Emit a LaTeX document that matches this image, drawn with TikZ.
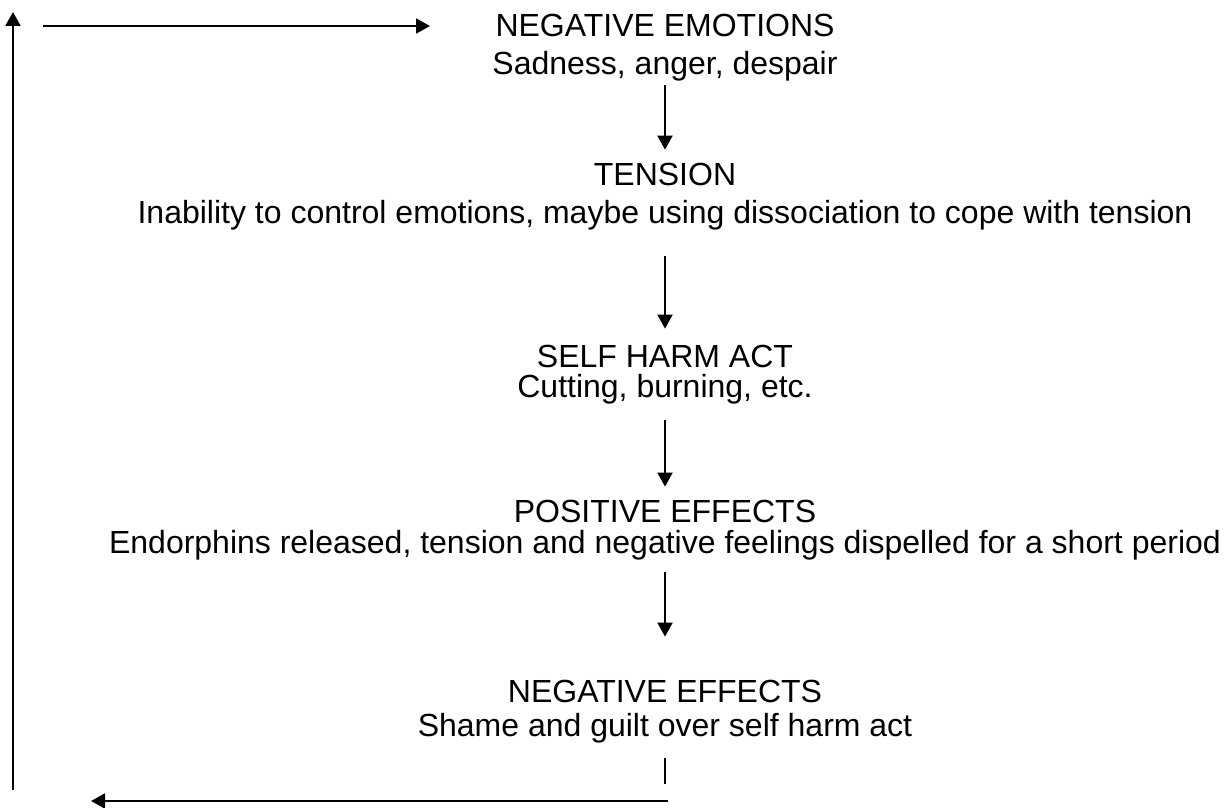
\documentclass[tikz,border=0pt]{standalone}
\usepackage{fontspec}
\setmainfont{Liberation Sans}
\usetikzlibrary{arrows.meta}

\begin{document}
\begin{tikzpicture}[x=0.5pt, y=-0.5pt, >={Triangle[length=7pt, width=7.5pt]},
  line/.style={inner sep=0pt, anchor=base, font=\fontsize{16}{19}\selectfont, text height=11pt, text depth=3pt},
  flow/.style={->, line width=1pt}]
\useasboundingbox (0,0) rectangle (1227,808);
\node[line] (t1) at (665,37) {NEGATIVE EMOTIONS};\node[line] (e1) at (665,75) {Sadness, anger, despair};
\node[line] (t2) at (665,185) {TENSION};\node[line] (e2) at (665,223) {Inability to control emotions, maybe using dissociation to cope with tension};
\node[line] (t3) at (665,367) {SELF HARM ACT};\node[line] (e3) at (665,397) {Cutting, burning, etc.};
\node[line] (t4) at (665,522) {POSITIVE EFFECTS};\node[line] (e4) at (665,553) {Endorphins released, tension and negative feelings dispelled for a short period};
\node[line] (t5) at (665,702) {NEGATIVE EFFECTS};\node[line] (e5) at (665,736) {Shame and guilt over self harm act};
\draw[flow, shorten <=2pt, shorten >=6.5pt] (e1.south) -- (t2.north);
\draw[flow, shorten <=13.5pt, shorten >=8pt] (e2.south) -- (t3.north);
\draw[flow, shorten <=8.5pt, shorten >=6.5pt] (e3.south) -- (t4.north);
\draw[flow, shorten <=6.5pt, shorten >=21.5pt] (e4.south) -- (t5.north);
\coordinate (down) at (665,784);\coordinate (backR) at (668,801);\coordinate (backL) at (91,801);
\coordinate (upB) at (13,790);\coordinate (upT) at (13,12);\coordinate (topL) at (43,26);\coordinate (topR) at (430,26);
\draw[line width=0.6pt, shorten <=8pt] (e5.south) -- (down);
\draw[flow] (backR) -- (backL);
\draw[flow] (upB) -- (upT);
\draw[flow] (topL) -- (topR);
\end{tikzpicture}
\end{document}
